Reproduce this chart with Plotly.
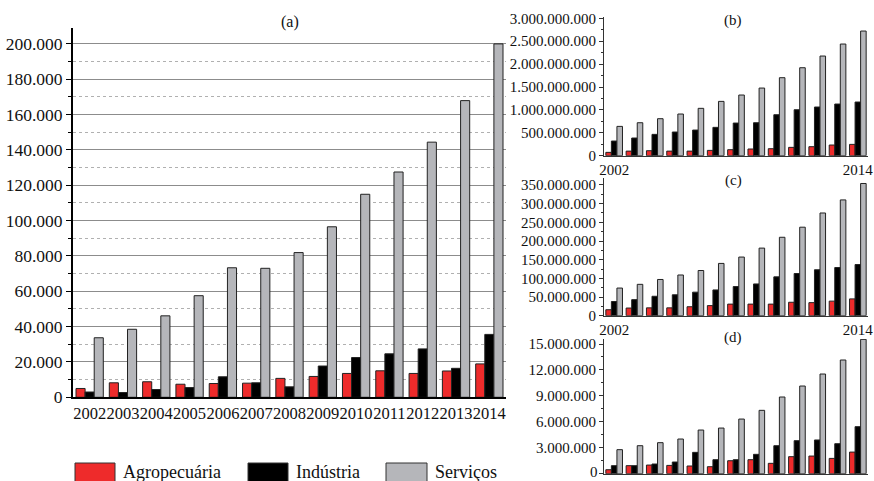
import plotly.graph_objects as go

W, H = 874, 481

years = list(range(2002, 2015))

# (a) values
a_agro = [5000, 8200, 8800, 7400, 7800, 8000, 10700, 11800, 13500, 15000, 13500, 14900, 18900]
a_ind = [3000, 2700, 4400, 5500, 11600, 8200, 5900, 17700, 22500, 24600, 27400, 16400, 35600]
a_serv = [33700, 38500, 46100, 57500, 73300, 73000, 81900, 96500, 114900, 127500, 144400, 167900, 200000]

# (b) values
b_agro = [73e6, 100e6, 109e6, 100e6, 100e6, 116e6, 131e6, 146e6, 153e6, 182e6, 197e6, 233e6, 247e6]
b_ind = [320e6, 386e6, 466e6, 517e6, 560e6, 619e6, 713e6, 720e6, 895e6, 1004e6, 1063e6, 1128e6, 1172e6]
b_serv = [640e6, 720e6, 808e6, 910e6, 1034e6, 1186e6, 1325e6, 1477e6, 1703e6, 1921e6, 2176e6, 2438e6, 2722e6]

# (c) values
c_agro = [16e6, 20.5e6, 21e6, 21e6, 24e6, 27e6, 31e6, 31e6, 31e6, 36e6, 35e6, 39e6, 45e6]
c_ind = [38e6, 43e6, 52e6, 56e6, 63e6, 69e6, 78e6, 85e6, 104e6, 113e6, 123e6, 129e6, 137e6]
c_serv = [74e6, 84e6, 97e6, 109e6, 121e6, 140e6, 157e6, 181e6, 210e6, 237e6, 275e6, 310e6, 354e6]

# (d) values
d_agro = [0.46e6, 0.93e6, 1.0e6, 0.96e6, 0.89e6, 0.81e6, 1.5e6, 1.62e6, 1.2e6, 1.97e6, 2.04e6, 1.77e6, 2.5e6]
d_ind = [0.93e6, 0.93e6, 1.12e6, 1.35e6, 2.47e6, 1.62e6, 1.62e6, 2.24e6, 3.24e6, 3.82e6, 3.9e6, 3.47e6, 5.44e6]
d_serv = [2.78e6, 3.24e6, 3.59e6, 4.01e6, 5.05e6, 5.28e6, 6.32e6, 7.33e6, 8.87e6, 10.14e6, 11.53e6, 13.15e6, 15.54e6]

# (d) tick values; its zero label is written separately at the page edge
d_tickvals = [0, 3e6, 6e6, 9e6, 12e6, 15e6]
d_ticktext = ["", "3.000.000", "6.000.000", "9.000.000", "12.000.000", "15.000.000"]

sector_names = ["Agropecuária", "Indústria", "Serviços"]
sector_colors = ["#ee2b2b", "#000000", "#b5b6ba"]

FONT = "Liberation Serif, Times New Roman, serif"


def px_x(p):
    return p / W


def px_y(p):
    return 1 - p / H


fig = go.Figure()

panels = [
    ("", (a_agro, a_ind, a_serv)),
    ("2", (b_agro, b_ind, b_serv)),
    ("3", (c_agro, c_ind, c_serv)),
    ("4", (d_agro, d_ind, d_serv)),
]

for suffix, series in panels:
    for name, color, vals in zip(sector_names, sector_colors, series):
        fig.add_trace(go.Bar(
            x=years, y=vals, name=name, showlegend=False,
            marker=dict(color=color, line=dict(color="#222222", width=1)),
            xaxis="x" + suffix, yaxis="y" + suffix,
        ))

tick_font_a = dict(family=FONT, size=16.5, color="#111")
tick_font_ay = dict(family=FONT, size=17.5, color="#111")
tick_font_s = dict(family=FONT, size=15, color="#111")

layout = dict(
    width=W, height=H, autosize=False,
    margin=dict(l=0, r=0, t=0, b=0, pad=0),
    paper_bgcolor="white", plot_bgcolor="white",
    separators=",.",
    barmode="group",
    bargap=0.18,
    bargroupgap=0.0,
    font=dict(family=FONT, color="#111"),
)

# panel (a)
layout["xaxis"] = dict(
    domain=[px_x(73), px_x(506)], range=[2001.5, 2014.5],
    tickmode="array", tickvals=years, ticktext=[str(y) for y in years],
    tickangle=0, automargin=False, ticklabeloverflow="allow",
    ticks="", showline=True, linecolor="black", linewidth=1.5,
    showgrid=False, zeroline=False, tickfont=tick_font_a, anchor="y",
)
layout["yaxis"] = dict(
    domain=[px_y(397.3), px_y(28)], range=[0, 209000],
    tickmode="linear", tick0=0, dtick=20000, tickformat=",d",
    automargin=False, ticklabeloverflow="allow",
    ticks="outside", ticklen=5, tickwidth=1.2, tickcolor="black",
    showline=True, linecolor="black", linewidth=2,
    showgrid=True, gridcolor="#8c8c8c", gridwidth=1,
    minor=dict(dtick=10000, ticks="outside", ticklen=3, tickcolor="black",
               showgrid=True, gridcolor="#b0b0b0", griddash="dot", gridwidth=1),
    zeroline=False, tickfont=tick_font_ay, anchor="x",
)

# panels (b), (c), (d)
small = [
    ("2", 155.7, 16.7, 3.035e9, 500e6, 250e6),
    ("3", 315.7, 178.0, 368.7e6, 50e6, 25e6),
    ("4", 473.7, 339.0, 15.58e6, 3e6, 1.5e6),
]
for suffix, bot, top, ymax, dt, mdt in small:
    layout["xaxis" + suffix] = dict(
        domain=[px_x(604), px_x(868)], range=[2001.5, 2014.5],
        tickmode="array", tickvals=[2002, 2014], ticktext=["2002", "2014"],
        tickangle=0, automargin=False, ticklabeloverflow="allow",
        ticks="", showline=True, linecolor="#333", linewidth=1.2,
        showgrid=False, zeroline=False, tickfont=tick_font_s,
        anchor="y" + suffix,
    )
    layout["yaxis" + suffix] = dict(
        domain=[px_y(bot), px_y(top)], range=[0, ymax],
        tickmode="linear", tick0=0, dtick=dt, tickformat=",d",
        automargin=False, ticklabeloverflow="allow",
        ticks="outside", ticklen=4, tickwidth=1, tickcolor="#333",
        showline=True, linecolor="#333", linewidth=1.2,
        showgrid=False,
        minor=dict(dtick=mdt, ticks="outside", ticklen=2, tickcolor="#333"),
        zeroline=False, tickfont=tick_font_s, anchor="x" + suffix,
    )

layout["yaxis4"].update(tickmode="array", tickvals=d_tickvals, ticktext=d_ticktext)

fig.update_layout(**layout)

# zero label of panel (d), kept inside the page
fig.add_annotation(
    text="0", x=px_x(599), y=px_y(480.5), xref="paper", yref="paper",
    xanchor="right", yanchor="bottom", showarrow=False, borderpad=0,
    font=tick_font_s,
)

# panel labels
titles = [("(a)", 290, 22, 16), ("(b)", 733, 20, 15), ("(c)", 733, 180, 15), ("(d)", 733, 337, 15)]
for txt, cx, cy, fs in titles:
    fig.add_annotation(
        text=txt, x=px_x(cx), y=px_y(cy), xref="paper", yref="paper",
        xanchor="center", yanchor="middle", showarrow=False,
        font=dict(family=FONT, size=fs, color="#111"),
    )

# legend drawn as swatches with labels
legend_items = [(75, 115, 121), (248, 288, 294), (386, 427, 433)]
for (x0, x1, tx), name, color in zip(legend_items, sector_names, sector_colors):
    fig.add_shape(
        type="rect", xref="paper", yref="paper",
        x0=px_x(x0), x1=px_x(x1), y0=px_y(490), y1=px_y(463),
        fillcolor=color, line=dict(color="#333", width=1),
    )
    fig.add_annotation(
        text=name, x=px_x(tx), y=px_y(472), xref="paper", yref="paper",
        xanchor="left", yanchor="middle", showarrow=False,
        font=dict(family=FONT, size=18, color="#111"),
    )

fig.write_html("out.html")
